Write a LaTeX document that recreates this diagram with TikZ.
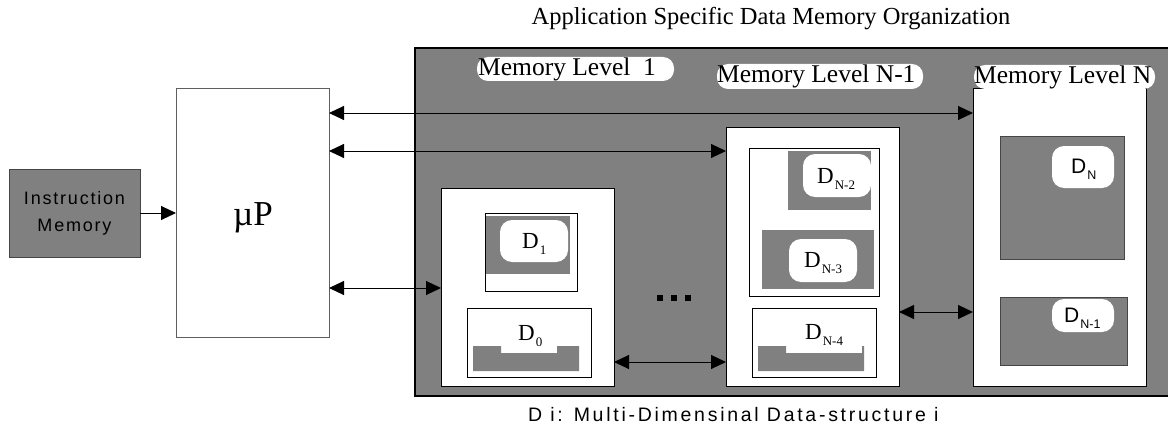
\documentclass[tikz,border=0pt]{standalone}
\usepackage{fontspec}
\setmainfont{Liberation Serif}
\newfontfamily\imfont[LetterSpace=10]{Liberation Sans}
\newfontfamily\capfont[LetterSpace=14]{Liberation Sans}
\newfontfamily\sansD{Liberation Sans}
\usetikzlibrary{arrows.meta}
\definecolor{mgray}{RGB}{128,128,128}
\definecolor{edgegray}{RGB}{70,70,70}
\newcommand\Dser[1]{D\hspace{1pt}\raisebox{-6pt}{\fontsize{13}{13}\selectfont #1}}
\newcommand\Dsan[1]{D\hspace{1pt}\raisebox{-6pt}{\fontsize{12.5}{13}\selectfont #1}}
\begin{document}
\begin{tikzpicture}[x=1pt,y=-1pt,
  box/.style={draw=black, line width=1pt, fill=white, inner sep=0pt, outer sep=0pt, anchor=north west},
  grect/.style={fill=mgray, draw=none, inner sep=0pt, outer sep=0pt, anchor=north west},
  grectb/.style={fill=mgray, draw=edgegray, line width=1pt, inner sep=0pt, outer sep=0pt, anchor=north west},
  wround/.style={fill=white, draw=none, rounded corners=12pt, inner sep=0pt, outer sep=0pt, anchor=north west},
  pill/.style={fill=white, draw=none, rounded corners=11pt, inner sep=0pt, outer sep=0pt},
  lvl/.style={font=\fontsize{25.5}{30}\selectfont, inner sep=0pt, anchor=west},
  dser/.style={font=\fontsize{23}{26}\selectfont, inner sep=0pt, anchor=base west},
  dsan/.style={font=\sansD\fontsize{21}{24}\selectfont, inner sep=0pt, anchor=base west},
  dbl/.style={{Triangle[length=15pt,width=14pt]}-{Triangle[length=15pt,width=14pt]}, line width=1pt},
  sgl/.style={-{Triangle[length=15pt,width=14pt]}, line width=1pt},
  sq/.style={fill=black, draw=none, minimum size=6pt, inner sep=0pt}
]
\useasboundingbox (0,0) rectangle (1168,428);

% title
\node[font=\fontsize{24.5}{28}\selectfont, inner sep=0pt] (title) at (771,19) {Application Specific Data Memory Organization};

% big gray organization box
\node[grect, minimum width=753pt, minimum height=348pt] (big) at (415,48) {};
\draw[line width=2.5pt] (big.north east) -- (big.north west) -- (big.south west) -- (big.south east);

% instruction memory and microprocessor
\node[fill=mgray, draw=edgegray, line width=1pt, minimum width=131pt, minimum height=88pt, inner sep=0pt, outer sep=0pt, anchor=north west,
      align=center, font=\imfont\fontsize{18}{27}\selectfont] (im) at (9,169) {Instruction\\Memory};
\node[draw={rgb,255:red,95;green,95;blue,95}, line width=1pt, fill=white, minimum width=153pt, minimum height=248pt, inner sep=0pt, outer sep=0pt, anchor=north west] (up) at (176,89) {};
\node[font=\fontsize{35}{40}\selectfont, inner sep=0pt, anchor=base] (uptxt) at (253,225) {µP};

% memory levels
\node[box, minimum width=173pt, minimum height=198pt] (l1) at (441,188) {};
\node[box, minimum width=173pt, minimum height=259pt] (ln1) at (726,127) {};
\node[box, minimum width=173pt, minimum height=297pt] (lnn) at (973,89) {};

% level labels
\node[pill, minimum width=197pt, minimum height=24pt] (p1) at (575.5,69) {};
\node[lvl] (t1) at ([xshift=1pt]p1.west) {Memory Level\ \ 1};
\node[pill, minimum width=206pt, minimum height=25pt] (p2) at (820,76.5) {};
\node[lvl] (t2) at (p2.west) {Memory Level N-1};
\node[pill, minimum width=181pt, minimum height=24pt] (p3) at (1064.5,77) {};
\node[lvl] (t3) at (p3.west) {Memory Level N};

% level 1 contents
\node[box, minimum width=92pt, minimum height=78pt] (d1box) at (485,213) {};
\node[grect, minimum width=84pt, minimum height=58pt] (d1g) at (485.5,216) {};
\node[wround, minimum width=68pt, minimum height=42pt] (d1w) at (500,220) {};
\node[dser] (d1t) at (522,248) {\Dser{1}};

\node[box, minimum width=124pt, minimum height=69pt] (d0box) at (467,308) {};
\fill[mgray] (473,346) -- (501,346) -- (501,353) -- (557,353) -- (557,346) -- (579,346) -- (579,371) -- (473,371) -- cycle;
\node[dser] (d0t) at (518,340) {\Dser{0}};

% level N-1 contents
\node[box, minimum width=130pt, minimum height=148pt] (dtop) at (749,148) {};
\node[grect, minimum width=83pt, minimum height=59pt] (dn2g) at (788,151) {};
\node[wround, minimum width=68pt, minimum height=43pt] (dn2w) at (803,154) {};
\node[dser] (dn2t) at (817,183) {\Dser{N-2}};
\node[grect, minimum width=112pt, minimum height=59pt] (dn3g) at (762,230) {};
\node[wround, minimum width=68pt, minimum height=43pt] (dn3w) at (789,239) {};
\node[dser] (dn3t) at (804,267) {\Dser{N-3}};

\node[box, minimum width=124pt, minimum height=69pt] (dn4box) at (752,308) {};
\fill[mgray] (758,346) -- (786,346) -- (786,353) -- (862,353) -- (862,346) -- (864,346) -- (864,371) -- (758,371) -- cycle;
\node[dser] (dn4t) at (805,339) {\Dser{N-4}};

% level N contents
\node[grectb, minimum width=124pt, minimum height=123pt] (dng) at (1000,136) {};
\node[wround, minimum width=62pt, minimum height=42pt] (dnw) at (1052,146) {};
\node[dsan] (dnt) at (1071,173) {\Dsan{N}};
\node[grectb, minimum width=127pt, minimum height=68pt] (dn1g) at (1000,297) {};
\node[wround, minimum width=62pt, minimum height=33pt] (dn1w) at (1052,299) {};
\node[dsan] (dn1t) at (1064,322) {\Dsan{N-1}};

% dots
\node[sq] (s1) at (660,298) {};
\node[sq] (s2) at (674,298) {};
\node[sq] (s3) at (688,298) {};

% connectors
\coordinate (r1) at (0,113);
\coordinate (r2) at (0,151);
\coordinate (r3) at (0,288);
\coordinate (r4) at (0,362);
\coordinate (r5) at (0,312);
\draw[sgl] (im.east) -- (im.east -| up.west);
\draw[dbl] (up.east |- r1) -- (lnn.west |- r1);
\draw[dbl] (up.east |- r2) -- (ln1.west |- r2);
\draw[dbl] (up.east |- r3) -- (l1.west |- r3);
\draw[dbl] (l1.east |- r4) -- (ln1.west |- r4);
\draw[dbl] (ln1.east |- r5) -- (lnn.west |- r5);

% caption
\node[font=\capfont\fontsize{19.5}{22}\selectfont, inner sep=0pt, anchor=west] (cap) at (528,415) {D i: Multi-Dimensinal Data-structure i};
\end{tikzpicture}
\end{document}
